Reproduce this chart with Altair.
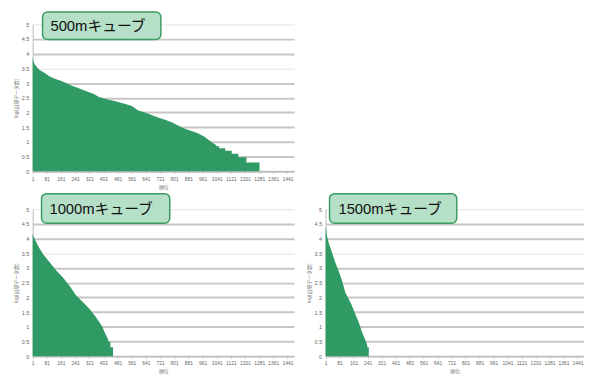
import altair as alt
import pandas as pd

# ---- data (rank, log10 of count) ----
ranks_500 = [1, 3, 8, 15, 25, 40, 60, 80, 100, 130, 160, 190, 220, 250, 280, 320, 350,
             375, 420, 468, 520, 561, 598, 635, 670, 709, 745, 783, 820, 857, 895, 931,
             970, 1005, 1033, 1042, 1055, 1055, 1089, 1089, 1126, 1126, 1163, 1163,
             1209, 1209, 1283, 1283]
logs_500 = [3.92, 3.80, 3.70, 3.62, 3.55, 3.45, 3.38, 3.30, 3.22, 3.14, 3.08, 3.00, 2.92,
            2.85, 2.78, 2.69, 2.62, 2.53, 2.45, 2.38, 2.30, 2.22, 2.07, 2.00, 1.92, 1.83,
            1.76, 1.68, 1.57, 1.46, 1.38, 1.30, 1.18, 1.02, 0.91, 0.85, 0.85, 0.78, 0.78,
            0.70, 0.70, 0.60, 0.60, 0.48, 0.48, 0.30, 0.30, 0.0]

ranks_1000 = [1, 5, 14, 32, 60, 97, 134, 171, 208, 246, 283, 320, 357, 394, 412, 425,
              431, 440, 440, 455, 455]
logs_1000 = [4.19, 4.08, 3.97, 3.75, 3.47, 3.19, 2.91, 2.68, 2.40, 2.07, 1.85, 1.62, 1.34,
             1.01, 0.75, 0.60, 0.48, 0.48, 0.30, 0.30, 0.0]

ranks_1500 = [1, 10, 20, 39, 58, 77, 96, 114, 133, 152, 170, 190, 209, 228, 237, 240,
              248, 248]
logs_1500 = [4.44, 4.05, 3.83, 3.50, 3.16, 2.88, 2.55, 2.16, 1.94, 1.71, 1.44, 1.16, 0.82,
             0.55, 0.40, 0.30, 0.30, 0.0]

labels = ["500mキューブ", "1000mキューブ", "1500mキューブ"]
x_ticks = [1, 81, 161, 241, 321, 401, 481, 561, 641, 721, 801, 881, 961, 1041, 1121,
           1201, 1281, 1361, 1441]
y_ticks = [0, 0.5, 1, 1.5, 2, 2.5, 3, 3.5, 4, 4.5, 5]
x_title = "順位"
y_title = "log(出現データ数)"

GREEN = "#2f9a63"
BOX_FILL = "#b5dfc6"
BOX_STROKE = "#3a9c62"
FONT = "Liberation Sans, Noto Sans CJK JP"


def panel(ranks, vals, label, w, box, tx):
    df = pd.DataFrame({"rank": ranks, "v": vals})
    x = alt.X("rank:Q", sort=None,
              scale=alt.Scale(domain=[1, 1478], nice=False, zero=False),
              axis=alt.Axis(values=x_ticks, format="d", title=x_title, grid=False,
                            labelFontSize=5, labelColor="#666666", labelPadding=3,
                            tickSize=2, tickColor="#bbbbbb", domainColor="#bbbbbb",
                            titleFontSize=5, titleColor="#777777", titlePadding=3,
                            titleFontWeight="normal", labelFlush=False))
    y = alt.Y("v:Q", stack=None,
              scale=alt.Scale(domain=[0, 5], nice=False),
              axis=alt.Axis(values=y_ticks, format="~g", title=y_title,
                            labelFontSize=5.5, labelColor="#666666", labelPadding=4,
                            tickSize=0, domainColor="#bbbbbb",
                            titleFontSize=5, titleColor="#777777", titlePadding=3,
                            titleFontWeight="normal",
                            gridColor={"condition": {"test": "datum.value == 3.5 || datum.value == 5",
                                                     "value": "#e4e4e4"}, "value": "#c6c6c6"},
                            gridWidth={"condition": {"test": "datum.value == 3.5 || datum.value == 5",
                                                     "value": 1}, "value": 2}))
    area = alt.Chart(df).mark_area(color=GREEN, interpolate="linear").encode(x=x, y=y)
    ldf = pd.DataFrame({"t": [label]})
    rect = alt.Chart(ldf).mark_rect(fill=BOX_FILL, stroke=BOX_STROKE, strokeWidth=1.5,
                                    cornerRadius=5).encode(
        x=alt.value(box[0]), x2=alt.value(box[1]),
        y=alt.value(box[2]), y2=alt.value(box[3]))
    text = alt.Chart(ldf).mark_text(align="left", baseline="middle", fontSize=15,
                                    font=FONT, color="#111111").encode(
        x=alt.value(tx), y=alt.value((box[2] + box[3]) / 2 + 0.5), text="t:N")
    return alt.layer(area, rect, text).properties(width=w, height=149)


p1 = panel(ranks_500, logs_500, labels[0], 265, (10, 130, -12.5, 15.3), 18)
p2 = panel(ranks_1000, logs_1000, labels[1], 265, (9, 139, -15.7, 14.3), 17)
p3 = panel(ranks_1500, logs_1500, labels[2], 262, (4, 133, -15.7, 14.3), 13)
blank = alt.Chart(pd.DataFrame({"a": [0]})).mark_point(opacity=0).encode(
    x=alt.X("a:Q", axis=None), y=alt.Y("a:Q", axis=None)).properties(width=262, height=149)

chart = alt.concat(p1, blank, p2, p3, columns=2,
                   spacing={"row": 38.4, "column": 32},
                   bounds="flush", align="each").configure(
    padding={"left": 5, "top": 0, "right": 0, "bottom": 0},
    font=FONT).configure_view(stroke=None)

chart.save("out.html", embed_options={"renderer": "svg", "actions": False})
